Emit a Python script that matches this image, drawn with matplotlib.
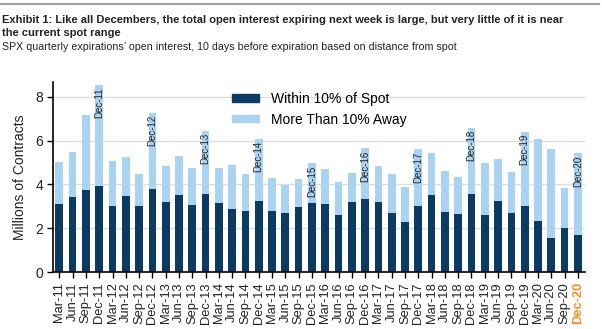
import numpy as np
import matplotlib.pyplot as plt
from matplotlib.patches import Patch

# Open interest (millions of contracts) for SPX quarterly expirations
quarters = ['Mar', 'Jun', 'Sep', 'Dec']
years = list(range(11, 21))
labels = [f"{q}-{y}" for y in years for q in quarters]

within = [3.11, 3.44, 3.73, 3.95, 3.02, 3.49, 3.03, 3.78, 3.20, 3.52,
          3.07, 3.55, 3.14, 2.88, 2.81, 3.26, 2.81, 2.69, 2.99, 3.14,
          3.10, 2.61, 3.19, 3.35, 3.19, 2.69, 2.28, 3.02, 3.52, 2.76,
          2.64, 3.57, 2.61, 3.26, 2.69, 3.02, 2.35, 1.56, 2.02, 1.68]
total = [5.01, 5.48, 7.18, 8.51, 5.07, 5.27, 4.48, 7.27, 4.84, 5.30,
         4.76, 6.45, 4.75, 4.89, 4.48, 6.09, 4.31, 3.98, 4.23, 4.96,
         4.69, 4.10, 4.51, 5.64, 4.84, 4.46, 3.88, 5.60, 5.42, 4.60,
         4.34, 6.59, 4.96, 5.17, 4.55, 6.40, 6.09, 5.63, 3.85, 5.42]
away = [t - w for t, w in zip(total, within)]

dark = '#0b3a63'
light = '#a9d3f1'
orange = '#f5901e'

plt.rcParams['font.family'] = ['Liberation Sans', 'DejaVu Sans']

fig = plt.figure(figsize=(6.02, 3.29), dpi=100)
ax = fig.add_axes([0.0875, 0.172, 0.8845, 0.58])

x = np.arange(len(labels))
ax.bar(x, within, width=0.58, color=dark, zorder=2)
ax.bar(x, away, bottom=within, width=0.58, color=light, zorder=2)

# December labels written down from the top of each bar
for i, lab in enumerate(labels):
    if lab.startswith('Dec'):
        ax.annotate(lab, (i, total[i]), xytext=(0, -1.5), textcoords='offset points',
                    rotation=90, ha='center', va='top', fontsize=7, color='#222222',
                    zorder=3)

ax.set_xlim(-0.5, len(labels) - 0.45)
ax.set_ylim(0, 8.68)
ax.set_yticks([0, 2, 4, 6, 8])
ax.yaxis.grid(True, color='#dddddd', linewidth=1, zorder=0)
ax.set_axisbelow(True)
ax.set_xticks(x)
ax.set_xticklabels(labels, rotation=90, fontsize=9.3)
ax.tick_params(axis='both', direction='out', length=4, width=1, colors='black')
ax.tick_params(axis='x', labelcolor='#222222', pad=3)
ax.tick_params(axis='y', labelsize=10, labelcolor='#222222', pad=3)
last = ax.get_xticklabels()[-1]
last.set_color(orange)
last.set_fontweight('bold')
ax.set_ylabel('Millions of Contracts', fontsize=10, color='#222222', labelpad=6)

for s in ['top', 'right']:
    ax.spines[s].set_visible(False)
ax.spines['left'].set_linewidth(1.2)
ax.spines['bottom'].set_linewidth(1.2)

handles = [Patch(color=dark, label='Within 10% of Spot'),
           Patch(color=light, label='More Than 10% Away')]
ax.legend(handles=handles, loc='upper left', bbox_to_anchor=(0.336, 0.946),
          frameon=False, fontsize=10, handlelength=2.0, handleheight=0.45,
          handletextpad=0.85, labelspacing=0.48, borderpad=0, borderaxespad=0)

# header
fig.add_artist(plt.Line2D([0, 0.995], [0.989, 0.989], color='#a0a0a0', linewidth=1.5))
fig.text(0.003, 0.953, 'Exhibit 1: Like all Decembers, the total open interest expiring next week is large, but very little of it is near\nthe current spot range',
         fontsize=8.0, fontweight='bold', va='top', ha='left',
         color='#222222', linespacing=1.3)
fig.text(0.003, 0.871, 'SPX quarterly expirations\u2019 open interest, 10 days before expiration based on distance from spot',
         fontsize=7.7, va='top', ha='left', color='#222222')

fig.savefig('out.png', dpi=100)
